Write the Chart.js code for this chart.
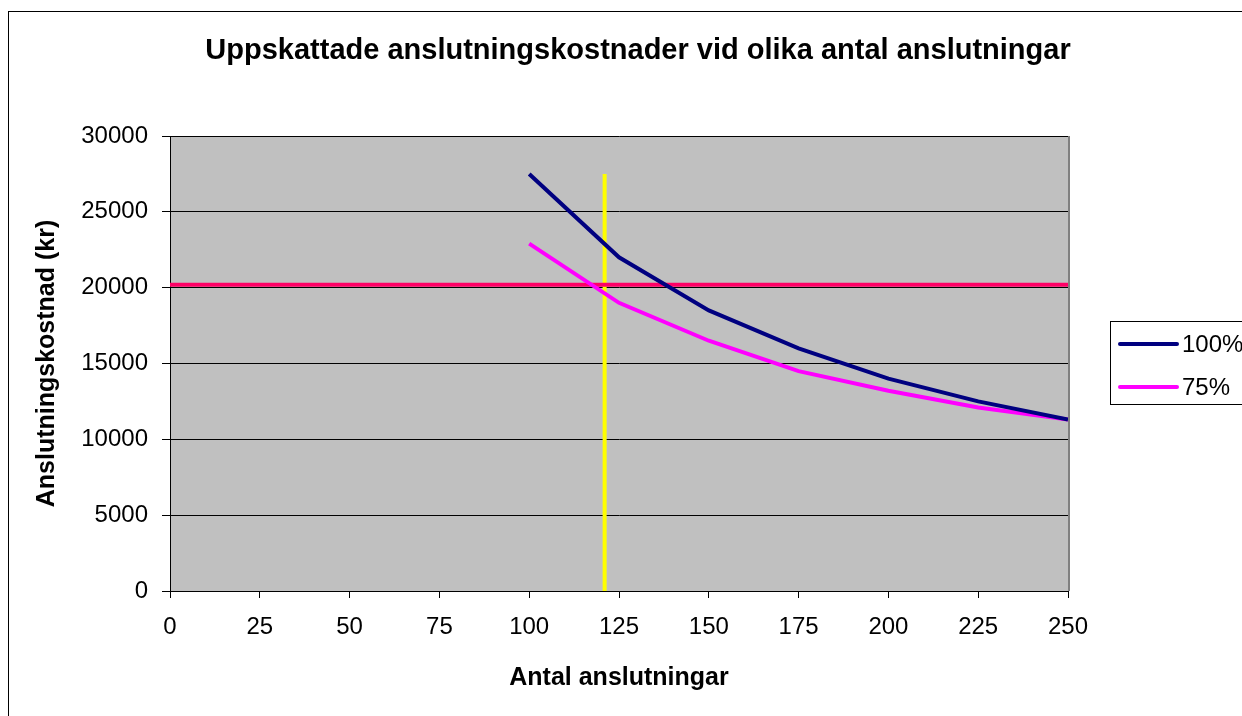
<!DOCTYPE html>
<html>
<head>
<meta charset="utf-8">
<script src="https://cdn.jsdelivr.net/npm/chart.js@4"></script>
<style>
  html, body { margin: 0; padding: 0; background: #fff; }
  #wrap { width: 1242px; height: 716px; }
</style>
</head>
<body>
<div id="wrap"><canvas id="lineChart" width="1242" height="716"></canvas></div>
<script>
var antal = [100, 125, 150, 175, 200, 225, 250];
var kostnad100 = [27500, 22000, 18500, 16000, 14000, 12500, 11300];
var kostnad75 = [22900, 19000, 16500, 14500, 13200, 12100, 11300];
var serieNamn = ['100%', '75%'];
var serieFarg = ['#000080', '#FF00FF'];
var xTicks = [0, 25, 50, 75, 100, 125, 150, 175, 200, 225, 250];
var yTicks = [0, 5000, 10000, 15000, 20000, 25000, 30000];
var gransKostnad = 20200;   // horizontal reference line
var gransAntal = 121;       // vertical reference line
var gransAntalTopp = 27500;

var FONT = 'Arial, "Liberation Sans", sans-serif';

function points(xs, ys) {
    return xs.map(function(x, i) { return {x: x, y: ys[i]}; });
}

// background, frame, title and legend
var excelLook = {
    id: 'excelLook',
    beforeDraw: function(chart) {
        var ctx = chart.ctx, a = chart.chartArea;
        ctx.save();
        ctx.fillStyle = '#fff';
        ctx.fillRect(0, 0, chart.width, chart.height);
        ctx.strokeStyle = '#000';
        ctx.lineWidth = 1;
        ctx.strokeRect(8.5, 11.5, chart.width + 20, chart.height + 20);
        ctx.fillStyle = '#C0C0C0';
        ctx.fillRect(a.left, a.top, a.right - a.left, a.bottom - a.top);
        ctx.restore();
    },
    afterDraw: function(chart) {
        var ctx = chart.ctx, a = chart.chartArea;
        ctx.save();
        // plot frame right side
        ctx.strokeStyle = '#808080';
        ctx.lineWidth = 2;
        ctx.beginPath();
        ctx.moveTo(a.right + 1, a.top);
        ctx.lineTo(a.right + 1, a.bottom);
        ctx.stroke();
        // title
        ctx.fillStyle = '#000';
        ctx.font = 'bold 29px ' + FONT;
        ctx.textAlign = 'center';
        ctx.textBaseline = 'middle';
        ctx.fillText('Uppskattade anslutningskostnader vid olika antal anslutningar', 638, 51);
        // legend
        ctx.strokeStyle = '#000';
        ctx.lineWidth = 1;
        ctx.strokeRect(1110.5, 321.5, 160, 83);
        ctx.font = '24px ' + FONT;
        ctx.textAlign = 'left';
        serieNamn.forEach(function(n, i) {
            var y = 344 + i * 43;
            ctx.strokeStyle = serieFarg[i];
            ctx.lineWidth = 4;
            ctx.lineCap = 'round';
            ctx.beginPath();
            ctx.moveTo(1120, y);
            ctx.lineTo(1177, y);
            ctx.stroke();
            ctx.fillStyle = '#000';
            ctx.fillText(n, 1182, y + 1);
        });
        ctx.restore();
    }
};

var elm = document.getElementById('lineChart');
new Chart(elm.getContext('2d'), {
    type: 'line',
    data: {
        datasets: [{
            label: serieNamn[0],
            data: points(antal, kostnad100),
            borderColor: serieFarg[0],
            borderWidth: 4,
            pointRadius: 0,
            tension: 0
        }, {
            label: serieNamn[1],
            data: points(antal, kostnad75),
            borderColor: serieFarg[1],
            borderWidth: 4,
            pointRadius: 0,
            tension: 0
        }, {
            label: 'gräns kostnad',
            data: points([xTicks[0], xTicks[xTicks.length - 1]], [gransKostnad, gransKostnad]),
            borderColor: '#FF0066',
            borderWidth: 4,
            pointRadius: 0
        }, {
            label: 'gräns antal',
            data: points([gransAntal, gransAntal], [0, gransAntalTopp]),
            borderColor: '#FFFF00',
            borderWidth: 4,
            pointRadius: 0
        }]
    },
    options: {
        responsive: false,
        animation: false,
        layout: { padding: { top: 136, left: 0, right: 174, bottom: 0 } },
        plugins: {
            legend: { display: false },
            title: { display: false },
            tooltip: { enabled: false }
        },
        scales: {
            x: {
                type: 'linear',
                min: 0,
                max: 250,
                afterFit: function(s) { s.height = 125; },
                afterBuildTicks: function(s) { s.ticks = xTicks.map(function(v) { return {value: v}; }); },
                ticks: { color: '#000', font: { family: FONT, size: 24 }, padding: 15, maxRotation: 0,
                         callback: function(v) { return String(v); } },
                grid: { drawOnChartArea: false, drawTicks: true, tickLength: 7, color: '#000' },
                border: { color: '#000', width: 1 },
                title: {
                    display: true,
                    text: 'Antal anslutningar',
                    color: '#000',
                    font: { family: FONT, size: 25, weight: 'bold' },
                    padding: { top: 0, bottom: 23 }
                }
            },
            y: {
                min: 0,
                max: 30000,
                afterFit: function(s) { s.width = 170; },
                afterBuildTicks: function(s) { s.ticks = yTicks.map(function(v) { return {value: v}; }); },
                ticks: { color: '#000', font: { family: FONT, size: 24 }, padding: 14,
                         callback: function(v) { return String(v); } },
                grid: { color: '#000', lineWidth: 1, tickLength: 8 },
                border: { color: '#000', width: 1 },
                title: {
                    display: true,
                    text: 'Anslutningskostnad (kr)',
                    color: '#000',
                    font: { family: FONT, size: 25, weight: 'bold' },
                    padding: { top: 32, bottom: 0 }
                }
            }
        }
    },
    plugins: [excelLook]
});
</script>
</body>
</html>
